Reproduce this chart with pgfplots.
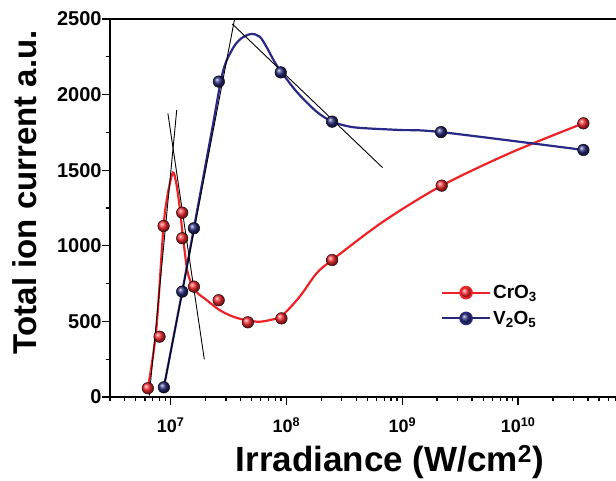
\documentclass[border=0pt]{standalone}
\usepackage{fontspec}
\setmainfont{Liberation Sans}
\usepackage{pgfplots}
\pgfplotsset{compat=1.18}
\definecolor{crred}{RGB}{238,34,38}
\definecolor{crmark}{RGB}{244,40,46}
\definecolor{vblue}{RGB}{40,40,135}
\definecolor{vmark}{RGB}{40,40,120}
\begin{document}
\begin{tikzpicture}
\useasboundingbox (0,0) rectangle (616pt,480pt);
\begin{axis}[
  at={(110pt,83pt)}, anchor=south west,
  scale only axis, width=506pt, height=378pt,
  xmode=log, xmin=3e6, xmax=7e10, ymin=0, ymax=2500,
  axis x line=box, axis y line=left,
  axis line style={line width=1.8pt,-},
  every outer x axis line/.append style={-},
  every outer y axis line/.append style={-},
  xtick={1e7,1e8,1e9,1e10},
  xticklabels={10\textsuperscript{7},10\textsuperscript{8},10\textsuperscript{9},10\textsuperscript{10}},
  minor xtick={3e6,4e6,5e6,6e6,7e6,8e6,9e6,2e7,3e7,4e7,5e7,6e7,7e7,8e7,9e7,2e8,3e8,4e8,5e8,6e8,7e8,8e8,9e8,2e9,3e9,4e9,5e9,6e9,7e9,8e9,9e9,2e10,3e10,4e10,5e10,6e10,7e10},
  ytick={0,500,1000,1500,2000,2500},
  yticklabels={0,500,1000,1500,2000,2500},
  minor ytick={250,750,1250,1750,2250},
  tick align=outside, xtick pos=left, ytick pos=left,
  major tick length=8pt, minor tick length=4pt,
  every tick/.style={black, line width=1.3pt},
  yticklabel style={font=\fontsize{20}{22}\selectfont\bfseries, xshift=3pt},
  xticklabel style={font=\fontsize{18}{20}\selectfont\bfseries, yshift=-9pt},
  xlabel={Irradiance (W/cm\textsuperscript{2})},
  ylabel={Total ion current a.u.},
  xlabel style={font=\fontsize{35}{38}\selectfont\bfseries, at={(axis description cs:0.553,-0.172)}, anchor=center},
  ylabel style={font=\fontsize{33}{36}\selectfont\bfseries, at={(axis description cs:-0.168,0.542)}, anchor=center},
  legend style={at={(axis description cs:0.648,0.242)}, anchor=west, draw=none, fill=none,
    font=\fontsize{19}{22}\selectfont\bfseries, row sep=7pt},
  legend cell align=left,
  legend image code/.code={\draw[mark repeat=2,mark phase=2,#1,line width=2pt] plot coordinates {(0pt,0pt) (24pt,0pt) (48pt,0pt)};},
]
% fitted curves
\addplot[crred, line width=2.2pt, smooth, forget plot] coordinates {
 (6.37e6,58) (7.52e6,443) (8.7e6,1131) (9.48e6,1347) (1.047e7,1484) (1.12e7,1413)
 (1.197e7,1259) (1.25e7,1126) (1.32e7,972) (1.41e7,818) (1.61e7,708) (2.04e7,642)
 (2.65e7,575) (3.45e7,532) (4.65e7,505) (5.88e7,498) (7.18e7,509) (9.06e7,535)
 (1.3e8,663) (1.82e8,818) (2.48e8,906) (6.84e8,1160) (2.19e9,1398) (8.9e9,1620) (3.66e10,1810)};
\addplot[vblue, line width=2.2pt, smooth, forget plot] coordinates {
 (8.75e6,64) (1.26e7,697) (1.59e7,1116) (2.25e7,1744) (2.83e7,2152) (3.45e7,2306)
 (4.08e7,2372) (4.97e7,2401) (5.88e7,2383) (6.71e7,2317) (8.2e7,2196) (1.07e8,2075)
 (1.3e8,1997) (1.82e8,1887) (2.48e8,1821) (3.52e8,1788) (4.91e8,1777) (9.5e8,1766)
 (2.16e9,1752) (3.66e10,1634)};
% tangent lines
\addplot[black, line width=0.9pt, forget plot] coordinates {(6.55e6,10) (1.13e7,1898)};
\addplot[black, line width=0.9pt, forget plot] coordinates {(9.48e6,1876) (1.955e7,249)};
\addplot[black, line width=0.9pt, forget plot] coordinates {(8.6e6,30) (3.57e7,2500)};
\addplot[black, line width=0.9pt, forget plot] coordinates {(3.41e7,2467) (6.76e8,1517)};
% data points
\addplot[only marks, mark=ball, mark size=5.8pt, mark options={ball color=crmark}, forget plot] coordinates {
 (6.37e6,58) (8.03e6,399) (8.7e6,1131) (1.26e7,1219) (1.26e7,1050) (1.59e7,730)
 (2.6e7,640) (4.65e7,494) (9.06e7,520) (2.48e8,906) (2.19e9,1398) (3.66e10,1810)};
\addplot[only marks, mark=ball, mark size=5.8pt, mark options={ball color=vmark}, forget plot] coordinates {
 (8.75e6,64) (1.26e7,697) (1.59e7,1116) (2.61e7,2086) (8.93e7,2147) (2.48e8,1821)
 (2.16e9,1752) (3.66e10,1634)};
\addlegendimage{crred, mark=ball, mark size=5.8pt, mark options={ball color=crmark}}
\addlegendentry{CrO\textsubscript{3}}
\addlegendimage{vmark, mark=ball, mark size=5.8pt, mark options={ball color=vmark}}
\addlegendentry{V\textsubscript{2}O\textsubscript{5}}
\end{axis}
\end{tikzpicture}
\end{document}
